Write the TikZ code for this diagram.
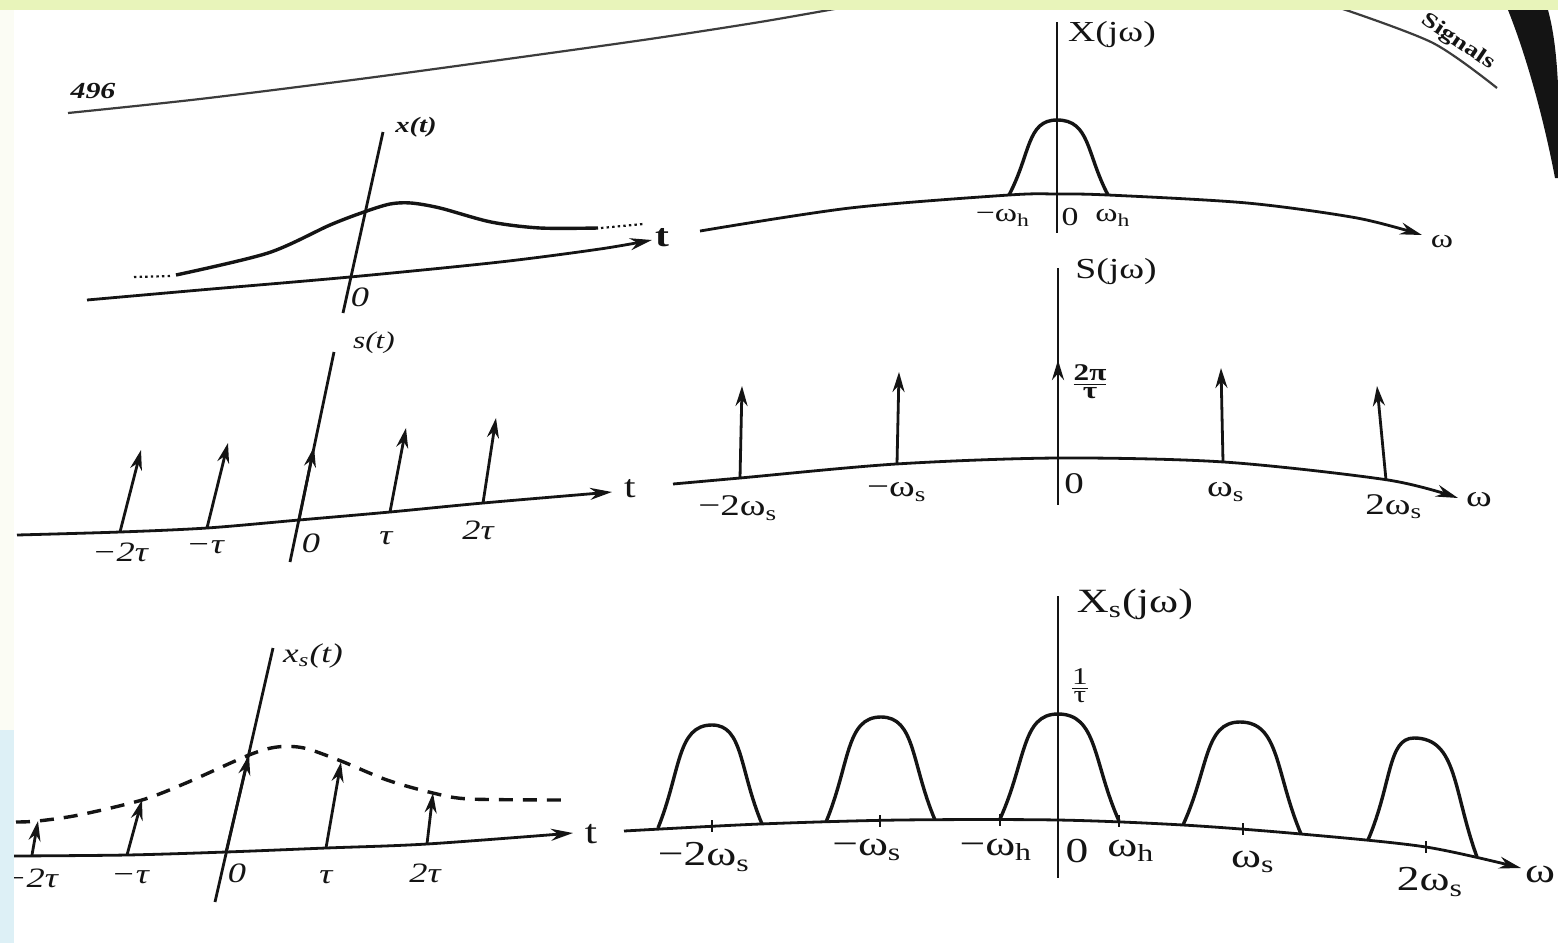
\documentclass[tikz,border=0pt]{standalone}
\usepackage{fontspec}
\setmainfont{Liberation Serif}
\usepackage{graphicx}
\usetikzlibrary{arrows.meta}
\definecolor{ink}{RGB}{20,20,20}
\definecolor{lime}{RGB}{232,244,186}
\definecolor{sky}{RGB}{221,240,246}
\definecolor{pale}{RGB}{251,252,244}
\definecolor{hdrgray}{RGB}{60,60,60}
\newcommand\W[1]{\scalebox{1.3}[1]{#1}}
\newcommand\fs[1]{\fontsize{#1}{#1}\selectfont}
\newcommand\sub[1]{\textsubscript{#1}}
\newcommand\mypulse[6]{%
  \draw[curve] (#1,#2) .. controls ({#1+0.22*(#3-#1)},{#2-0.55*(#2-#6)}) and ({#1+0.18*(#3-#1)},#6) .. (#5,#6)
    .. controls ({#3-0.18*(#3-#1)},#6) and ({#3-0.22*(#3-#1)},{#4-0.55*(#4-#6)}) .. (#3,#4);}
\begin{document}
\begin{tikzpicture}[x=0.5pt,y=-0.5pt,
  ax/.style={line width=1.4pt, draw=ink},
  axarr/.style={ax, -{Stealth[length=11pt,width=6pt]}},
  imp/.style={line width=1.4pt, draw=ink, -{Stealth[length=10pt,width=6pt]}},
  curve/.style={line width=1.7pt, draw=ink},
  dashcurve/.style={line width=1.7pt, draw=ink, dash pattern=on 7pt off 5pt},
  dotcurve/.style={line width=1.1pt, draw=ink, dash pattern=on 1.2pt off 1.6pt},
  hdr/.style={line width=1.1pt, draw=hdrgray},
  tick/.style={line width=1.1pt, draw=ink},
  lbl/.style={inner sep=0pt, text=ink},
  tl/.style={lbl, font=\fs{14}\itshape},
  fl/.style={lbl, font=\fs{15}},
  fls/.style={lbl, font=\fs{13}},
  flb/.style={lbl, font=\fs{17.5}},
]
\useasboundingbox (0,0) rectangle (1558,943);
\fill[white] (0,0) rectangle (1558,943);

% ---------- page header ----------
\draw[hdr] plot[smooth] coordinates {(68,113) (200,99) (360,79) (500,60) (650,39) (760,22) (840,8)};
\node[lbl,font=\fs{11.5}\bfseries\itshape] (pg) at (93,91) {\W{496}};
\draw[hdr] plot[smooth] coordinates {(1340,8) (1433,43) (1497,88)};
\node[lbl,font=\fs{10.5}\bfseries,rotate=-34] (sig) at (1458,42) {\W{Signals}};

% ---------- x(t) ----------
\draw[axarr] plot[smooth] coordinates {(87,300) (200,290) (350,277) (500,262) (600,249) (652,240)};
\draw[ax] (343,313) -- (383,132);
\draw[curve] plot[smooth] coordinates {(176,275) (268,253) (330,225) (364,212) (390,204) (411,203) (440,208) (491,222) (540,228) (598,228)};
\draw[dotcurve] (134,277) -- (172,276);
\draw[dotcurve] (601,228) -- (643,224);
\node[lbl,font=\fs{11}\bfseries\itshape] (xt) at (416,127) {\W{x(t)}};
\node[tl] (xt0) at (360,297) {\W{0}};
\node[lbl,font=\fs{16}\bfseries] (xtt) at (662,238) {\W{t}};

% ---------- s(t) ----------
\draw[axarr] plot[smooth] coordinates {(17,535) (120,532) (207,528) (299,520) (390,512) (483,503) (612,492)};
\draw[ax] (290,562) -- (334,352);
\draw[imp] (120,532) -- (141,450);
\draw[imp] (207,528) -- (228,443);
\draw[imp] (299,520) -- (314,447);
\draw[imp] (390,512) -- (406,428);
\draw[imp] (483,503) -- (496,418);
\node[lbl,font=\fs{12}\itshape] (st) at (374,343) {\W{s(t)}};
\node[tl] (sm2) at (120,552) {\W{−2τ}};
\node[tl] (sm1) at (205,547) {\W{−τ}};
\node[tl] (s0) at (311,543) {\W{0}};
\node[tl] (s1) at (386,538) {\W{τ}};
\node[tl] (s2) at (478,530) {\W{2τ}};
\node[lbl,font=\fs{16}] (stt) at (630,489) {\W{t}};

% ---------- xs(t) ----------
\draw[axarr] plot[smooth] coordinates {(14,856) (127,855) (226,852) (326,848) (427,844) (573,833)};
\draw[ax] (215,902) -- (273,648);
\draw[dashcurve] plot[smooth] coordinates {(16,822) (38,821) (79,815) (142,800) (186,783) (249,755) (277,747) (304,748) (341,761) (387,780) (433,793) (470,799) (569,800)};
\draw[imp] (32,855) -- (38,821);
\draw[imp] (127,855) -- (142,800);
\draw[imp] (226,852) -- (249,755);
\draw[imp] (326,848) -- (341,762);
\draw[imp] (427,844) -- (433,793);
\node[lbl,font=\fs{13.5}\itshape] (xst) at (313,656) {\W{x\sub{s}(t)}};
\node[tl] (xm2) at (30,878) {\W{−2τ}};
\node[tl] (xm1) at (130,877) {\W{−τ}};
\node[tl] (x0) at (237,873) {\W{0}};
\node[tl] (x1) at (326,877) {\W{τ}};
\node[tl] (x2) at (425,873) {\W{2τ}};
\node[lbl,font=\fs{17}] (xstt) at (591,834) {\W{t}};

% ---------- X(jw) ----------
\draw[axarr] plot[smooth] coordinates {(700,231) (850,208) (1009,195) (1057,194) (1108,195) (1247,203) (1357,218) (1422,235)};
\draw[ax] (1057,22) -- (1057,233);
\mypulse{1009}{195}{1108}{195}{1057}{120}
\node[lbl,font=\fs{14.5}] (Xjw) at (1112,35) {\W{X(jω)}};
\node[fls] (Xmh) at (1003,218) {\W{−ω\sub{h}}};
\node[fls] (X0) at (1070,217) {\W{0}};
\node[fls] (Xh) at (1113,218) {\W{ω\sub{h}}};
\node[fls] (Xw) at (1442,242) {\W{ω}};

% ---------- S(jw) ----------
\draw[axarr] plot[smooth] coordinates {(673,484) (740,478) (896,464) (1058,458) (1224,462) (1388,480) (1458,498)};
\draw[ax] (1058,268) -- (1058,505);
\draw[imp] (740,478) -- (742,386);
\draw[imp] (897,464) -- (899,372);
\draw[imp] (1058,458) -- (1058,360);
\draw[imp] (1223,462) -- (1221,368);
\draw[imp] (1386,480) -- (1377,386);
\node[lbl,font=\fs{14.5}] (Sjw) at (1116,272) {\W{S(jω)}};
\node[lbl,font=\fs{12}\bfseries] (S2pi) at (1090,382) {\W{$\frac{\mbox{2π}}{\mbox{τ}}$}};
\node[fl] (Sm2) at (738,508) {\W{−2ω\sub{s}}};
\node[fl] (Sm1) at (897,492) {\W{−ω\sub{s}}};
\node[fl] (S0) at (1074,484) {\W{0}};
\node[fl] (S1) at (1226,492) {\W{ω\sub{s}}};
\node[fl] (S2) at (1394,507) {\W{2ω\sub{s}}};
\node[fl] (Sw) at (1479,500) {\W{ω}};

% ---------- Xs(jw) ----------
\draw[axarr] plot[smooth] coordinates {(624,831) (760,824) (900,820) (1058,820) (1183,825) (1301,834) (1426,847) (1521,868)};
\draw[ax] (1058,596) -- (1058,878);
\mypulse{658}{828}{762}{824}{712}{725}
\mypulse{826}{822}{935}{820}{881}{717}
\mypulse{1000}{819}{1119}{821}{1058}{714}
\mypulse{1183}{825}{1301}{834}{1240}{722}
\mypulse{1368}{840}{1477}{857}{1414}{738}
\foreach \tx/\ty in {712/826, 880/821, 1000/820, 1119/821, 1243/829, 1426/847}
  \draw[tick] (\tx,\ty-6) -- (\tx,\ty+6);
\node[lbl,font=\fs{17}] (Xsjw) at (1135,604) {\W{X\sub{s}(jω)}};
\node[lbl,font=\fs{12}] (Xs1t) at (1080,686) {\W{$\frac{\mbox{1}}{\mbox{τ}}$}};
\node[flb] (Xm2) at (704,857) {\W{−2ω\sub{s}}};
\node[flb] (Xm1) at (867,850) {\W{−ω\sub{s}}};
\node[flb] (Xmh2) at (996,850) {\W{−ω\sub{h}}};
\node[flb] (Xs0) at (1077,851) {\W{0}};
\node[flb] (Xh2) at (1131,851) {\W{ω\sub{h}}};
\node[flb] (Xp1) at (1253,862) {\W{ω\sub{s}}};
\node[flb] (Xp2) at (1430,882) {\W{2ω\sub{s}}};
\node[flb] (Xsw) at (1540,874) {\W{ω}};

% ---------- photo borders ----------
\fill[lime] (0,0) rectangle (1558,10);
\fill[pale] (0,10) rectangle (14,730);
\fill[sky] (0,730) rectangle (14,943);
\fill[ink] (1508,10) .. controls (1528,60) and (1545,125) .. (1555,178) -- (1558,178) -- (1558,85) .. controls (1556,45) and (1552,25) .. (1548,10) -- cycle;
\end{tikzpicture}
\end{document}
